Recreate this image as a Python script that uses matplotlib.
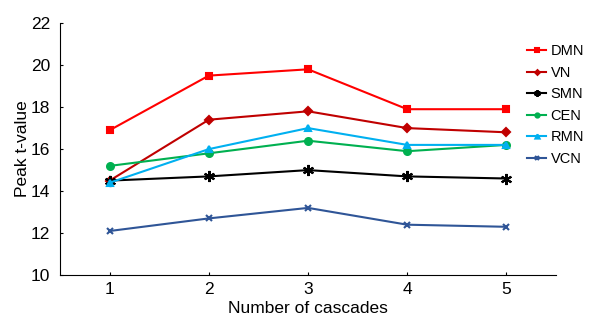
import matplotlib
matplotlib.use("Agg")
import matplotlib.pyplot as plt

plt.rcParams['font.family'] = ['Liberation Sans', 'DejaVu Sans']

# Datos
cascadas = [1, 2, 3, 4, 5]
redes = ['DMN', 'VN', 'SMN', 'CEN', 'RMN', 'VCN']
dmn = [16.9, 19.5, 19.8, 17.9, 17.9]
vn = [14.5, 17.4, 17.8, 17.0, 16.8]
smn = [14.5, 14.7, 15.0, 14.7, 14.6]
cen = [15.2, 15.8, 16.4, 15.9, 16.2]
rmn = [14.4, 16.0, 17.0, 16.2, 16.2]
vcn = [12.1, 12.7, 13.2, 12.4, 12.3]

series = [dmn, vn, smn, cen, rmn, vcn]
colores = ['#ff0000', '#c00000', '#000000', '#00b050', '#00b0f0', '#2f5597']
marcadores = ['s', 'D', (6, 2, 0), 'o', '^', 'x']
tamanos = [4, 4, 8, 5, 5, 5]

fig = plt.figure(figsize=(5.89, 3.21), dpi=100)
ax = fig.add_axes([0.102, 0.143, 0.842, 0.785])

for nombre, y, c, m, s in zip(redes, series, colores, marcadores, tamanos):
    ax.plot(cascadas, y, color=c, marker=m, markersize=s, linewidth=1.5,
            markeredgewidth=1.5, label=nombre)

ax.set_xlim(0.5, 5.5)
ax.set_ylim(10, 22)
ax.set_xticks(cascadas)
ax.set_yticks([10, 12, 14, 16, 18, 20, 22])
ax.tick_params(direction='in', length=2, labelsize=12.5, width=0.8)
ax.tick_params(axis='y', pad=7)
ax.tick_params(axis='x', pad=5)
ax.spines['top'].set_visible(False)
ax.spines['right'].set_visible(False)
ax.set_xlabel('Number of cascades', fontsize=12.5, labelpad=3)
ax.set_ylabel('Peak t-value', fontsize=12.5, labelpad=1)

leg = ax.legend(loc='upper left', bbox_to_anchor=(0.93, 0.94), frameon=False,
                fontsize=10.5, handlelength=1.3, handletextpad=0.3,
                labelspacing=0.52, markerscale=0.6, borderaxespad=0)

fig.savefig('out.png', dpi=100)
